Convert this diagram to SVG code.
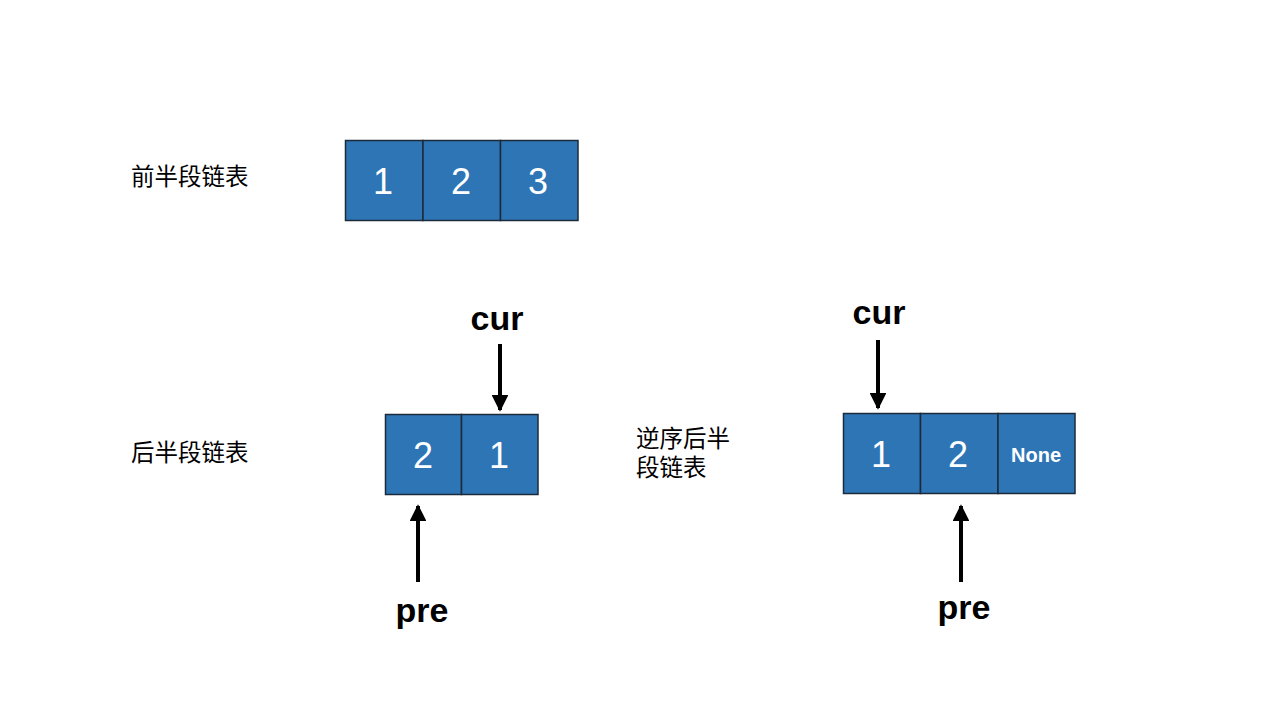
<svg xmlns="http://www.w3.org/2000/svg" width="1280" height="720" viewBox="0 0 1280 720">
<defs>
<style>
.cell{fill:#2E75B6;stroke:#1C2B3A;stroke-width:1.5}
.num{fill:#fff;font-family:"Liberation Sans",Arial,sans-serif;font-size:36px;text-anchor:middle}
.none{fill:#fff;font-family:"Liberation Sans",Arial,sans-serif;font-size:20px;font-weight:bold;text-anchor:middle}
.ptr{fill:#000;font-family:"Liberation Sans",Arial,sans-serif;font-size:34px;font-weight:bold;text-anchor:middle}
.cn{fill:#000;font-family:"Noto Sans CJK SC","Noto Sans",sans-serif;font-size:23.5px}
.arr{stroke:#000;stroke-width:4;fill:none;marker-end:url(#ah)}
</style>
<marker id="ah" viewBox="0 0 10 10" refX="9" refY="5" markerWidth="4.2" markerHeight="4.2" orient="auto" markerUnits="strokeWidth">
<path d="M0,0 L10,5 L0,10 z" fill="#000"/>
</marker>
</defs>
<rect width="1280" height="720" fill="#fff"/>
<g id="captions">
<text class="cn" x="131" y="185">前半段链表</text>
<text class="cn" x="131" y="461">后半段链表</text>
<text class="cn" x="636" y="447">逆序后半</text>
<text class="cn" x="636" y="476">段链表</text>
</g>
<g id="list1">
<rect class="cell" x="345.5" y="140.5" width="77.5" height="80"/>
<rect class="cell" x="423" y="140.5" width="77.5" height="80"/>
<rect class="cell" x="500.5" y="140.5" width="77.5" height="80"/>
<text class="num" x="383" y="194">1</text>
<text class="num" x="461" y="194">2</text>
<text class="num" x="538" y="194">3</text>
</g>
<g id="list2">
<rect class="cell" x="385.5" y="414.5" width="76" height="80"/>
<rect class="cell" x="461.5" y="414.5" width="76.5" height="80"/>
<text class="num" x="423" y="468">2</text>
<text class="num" x="499" y="468">1</text>
</g>
<g id="list3">
<rect class="cell" x="843.5" y="413.5" width="77" height="80"/>
<rect class="cell" x="920.5" y="413.5" width="77.5" height="80"/>
<rect class="cell" x="998" y="413.5" width="77" height="80"/>
<text class="num" x="881" y="467">1</text>
<text class="num" x="958" y="467">2</text>
<text class="none" x="1036" y="462">None</text>
</g>
<g id="labels">
<text class="ptr" x="497" y="330">cur</text>
<text class="ptr" x="422" y="622">pre</text>
<text class="ptr" x="879" y="324">cur</text>
<text class="ptr" x="964" y="619">pre</text>
</g>
<g id="connectors">
<line class="arr" x1="500" y1="344" x2="500" y2="410"/>
<line class="arr" x1="418" y1="582" x2="418" y2="506"/>
<line class="arr" x1="878" y1="340" x2="878" y2="408"/>
<line class="arr" x1="961" y1="582" x2="961" y2="506"/>
</g>
</svg>
